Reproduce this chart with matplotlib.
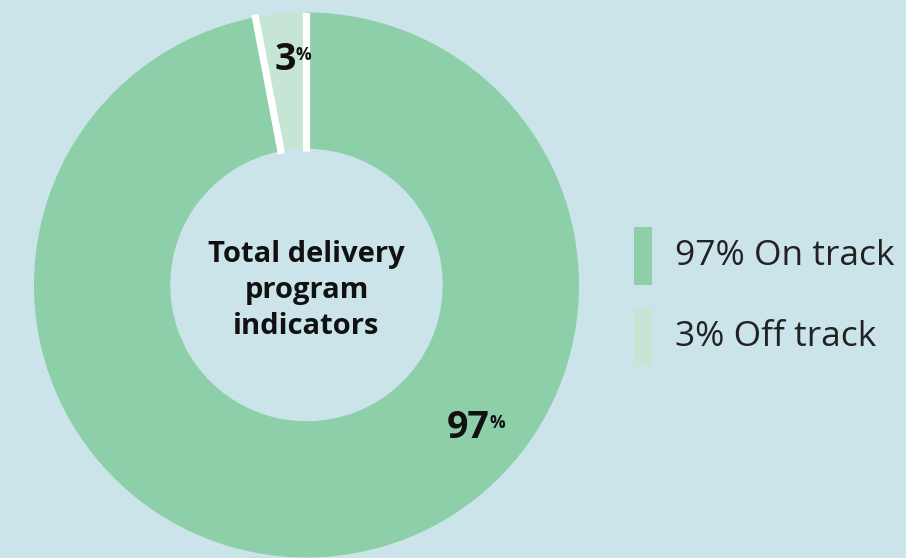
import numpy as np
import matplotlib.pyplot as plt
from matplotlib.patches import Rectangle

labels = ['On track', 'Off track']
values = [97, 3]
colors = ['#8ccfa9', '#c7e5d4']
bg = '#cbe4ea'
center_text = 'Total delivery\nprogram\nindicators'

plt.rcParams['font.family'] = ['Open Sans', 'DejaVu Sans']

W, H = 906, 558
fig = plt.figure(figsize=(W / 100, H / 100), dpi=100)
fig.patch.set_facecolor(bg)

# donut centre and radius in pixels
cx, cy, R = 306.5, 285, 272.5
ax = fig.add_axes([(cx - R) / W, (H - cy - R) / H, 2 * R / W, 2 * R / H])
ax.set_facecolor(bg)
ax.axis('off')

wedges, _ = ax.pie(values, colors=colors, startangle=90, counterclock=False,
                   radius=1, wedgeprops=dict(width=0.5, linewidth=0))
ax.set_xlim(-1, 1)
ax.set_ylim(-1, 1)
ax.set_aspect('equal')

# white separators on wedge boundaries
total = float(sum(values))
bounds = 90 - np.cumsum([0] + values[:-1]) / total * 360
for a in bounds:
    t = np.deg2rad(a)
    ax.plot([0.49 * np.cos(t), 1.01 * np.cos(t)],
            [0.49 * np.sin(t), 1.01 * np.sin(t)],
            color='white', lw=5.2, solid_capstyle='butt')

ax.text(0, -0.02, center_text, ha='center', va='center', fontsize=21,
        fontweight='bold', color='#111111', linespacing=1.3)


def pct_label(val, ang, r):
    t = np.deg2rad(ang)
    txt = ax.text(r * np.cos(t), r * np.sin(t), str(val), ha='center',
                  va='center', fontsize=27, fontweight='bold', color='#111111')
    ax.annotate('%', xy=(1.0, 0.86), xycoords=txt, ha='left', va='top',
                fontsize=12.5, fontweight='bold', color='#111111')


pct_label(values[0], -41.5, 0.79)
pct_label(values[1], 95.5, 0.83)

# legend
for i, (lab, v, c) in enumerate(zip(labels, values, colors)):
    y = H - (256 + i * 81)
    fig.add_artist(Rectangle((634 / W, (y - 29) / H), 18 / W, 58 / H,
                             transform=fig.transFigure, color=c, lw=0))
    fig.text(675 / W, y / H, f'{v}% {lab}', ha='left', va='center',
             fontsize=25.5, color='#222222')

fig.savefig('out.png', dpi=100, facecolor=bg)
